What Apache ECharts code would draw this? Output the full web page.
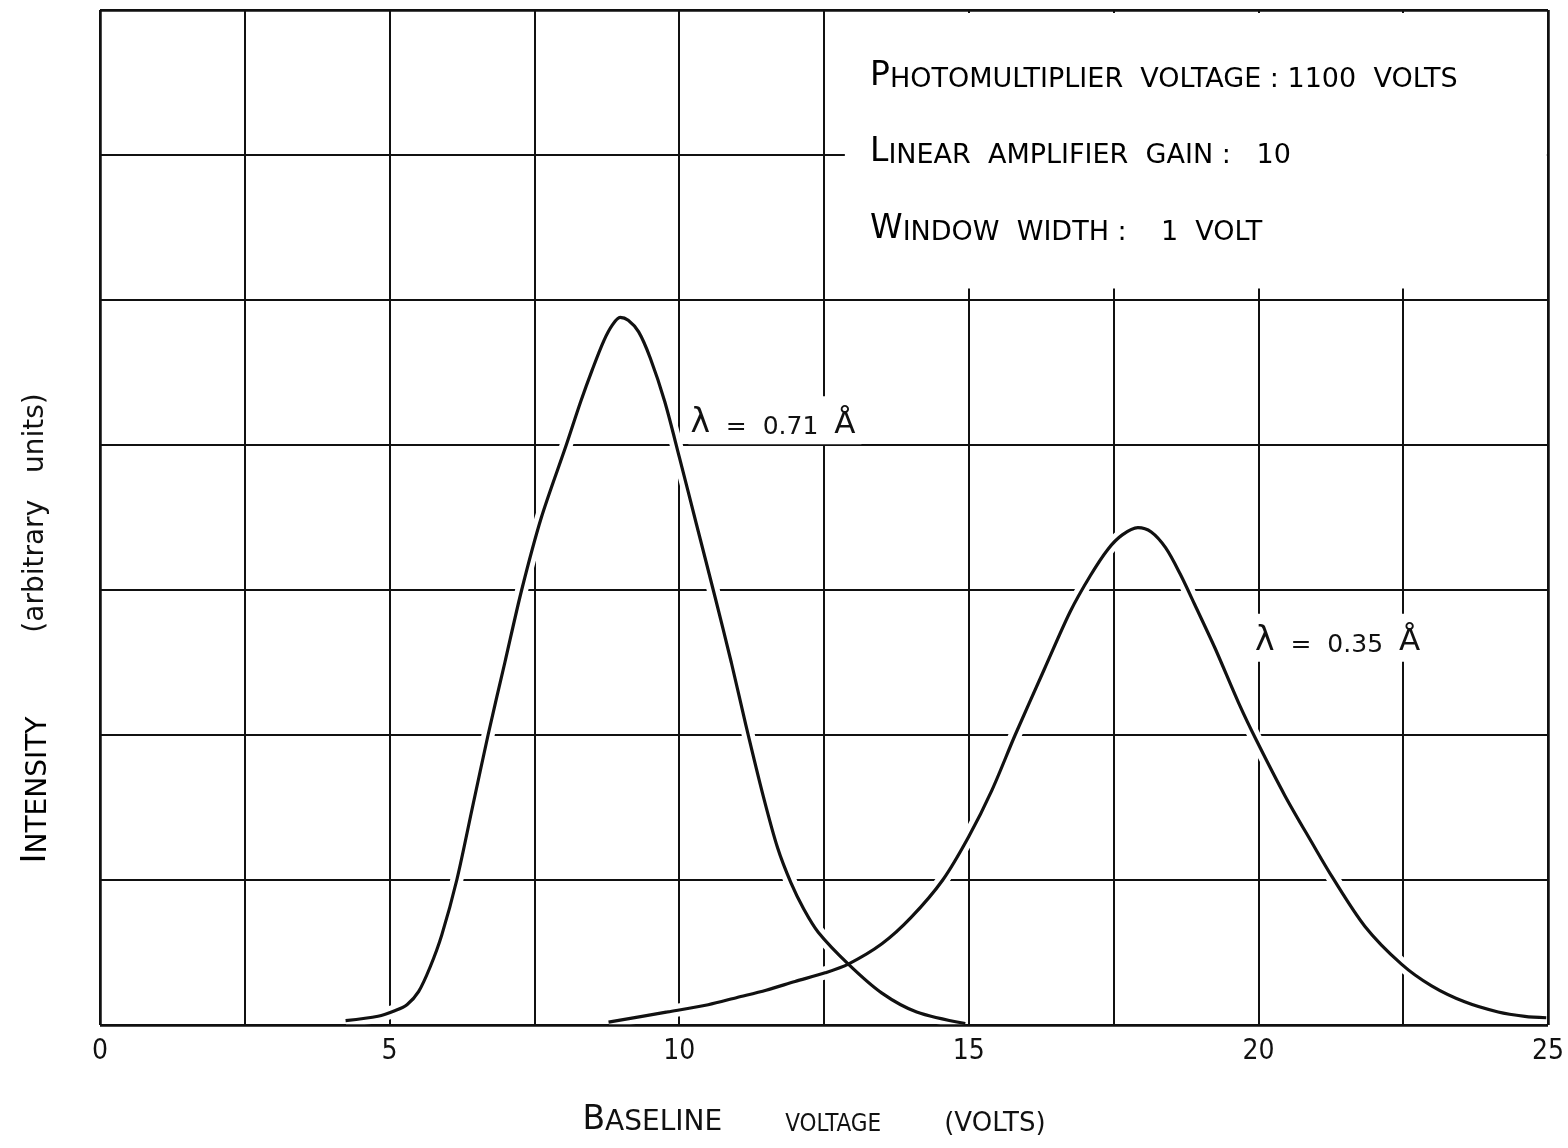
<!DOCTYPE html>
<html>
<head>
<meta charset="utf-8">
<script src="https://cdn.jsdelivr.net/npm/echarts@6/dist/echarts.min.js"></script>
<style>
  html, body { margin: 0; padding: 0; background: #fff; }
  #chart { width: 1568px; height: 1148px; }
</style>
</head>
<body>
<div id="chart"></div>
<script>
// Pulse height spectra (volts, arbitrary units)
const voltsA     = [4.24, 4.8, 5.1, 5.3, 5.5, 5.7, 5.9, 6.16, 6.43, 6.7, 6.99, 7.28, 7.62, 8.05, 8.3, 8.5, 8.7, 8.85, 8.98, 9.12, 9.3, 9.5, 9.75, 10.0, 10.3, 10.62, 10.9, 11.15, 11.45, 11.7, 11.93, 12.15, 12.4, 12.92, 13.5, 14.1, 14.94];
const intensityA = [0.03, 0.06, 0.1, 0.14, 0.23, 0.4, 0.62, 1.0, 1.5, 2.0, 2.5, 3.0, 3.5, 4.0, 4.3, 4.52, 4.72, 4.83, 4.88, 4.86, 4.78, 4.6, 4.3, 3.92, 3.45, 2.95, 2.5, 2.07, 1.58, 1.22, 0.98, 0.8, 0.64, 0.42, 0.22, 0.09, 0.01];

const voltsB     = [8.78, 9.8, 10.5, 11.0, 11.5, 12.0, 12.52, 12.92, 13.5, 14.0, 14.55, 15.0, 15.4, 15.8, 16.3, 16.75, 17.1, 17.4, 17.65, 17.92, 18.15, 18.4, 18.65, 18.9, 19.25, 19.66, 19.97, 20.46, 20.92, 21.26, 21.84, 22.47, 22.99, 23.56, 24.14, 24.6, 24.97];
const intensityB = [0.02, 0.09, 0.14, 0.19, 0.24, 0.3, 0.36, 0.42, 0.56, 0.74, 1.0, 1.3, 1.62, 2.0, 2.45, 2.85, 3.1, 3.28, 3.38, 3.43, 3.4, 3.29, 3.11, 2.9, 2.6, 2.22, 1.96, 1.58, 1.26, 1.03, 0.68, 0.42, 0.27, 0.16, 0.09, 0.06, 0.05];

const xTickLabels = ['0', '5', '10', '15', '20', '25'];
const curveLabels = ['λ', '0.71', '0.35'];
const infoLines   = [
  ['P', 'HOTOMULTIPLIER  VOLTAGE : 1100  VOLTS'],
  ['L', 'INEAR  AMPLIFIER  GAIN :   10'],
  ['W', 'INDOW  WIDTH :    1  VOLT']
];

const FONT   = "'DejaVu Sans Condensed', 'DejaVu Sans', sans-serif";
const FONT_W = "'DejaVu Sans', sans-serif";
const INK    = '#111';

const toPairs = (xs, ys) => xs.map((x, i) => [x, ys[i]]);
const dataA = toPairs(voltsA, intensityA);
const dataB = toPairs(voltsB, intensityB);

const chart = echarts.init(document.getElementById('chart'), null, { renderer: 'canvas' });

// white halo under each curve breaks the grid like drafting ink does
const halo = (data) => ({
  type: 'line', data, smooth: 0.3, showSymbol: false, silent: true,
  lineStyle: { color: '#fff', width: 13 }, z: 3
});
const ink = (data) => ({
  type: 'line', data, smooth: 0.3, showSymbol: false, silent: true,
  lineStyle: { color: INK, width: 3.2 }, z: 4
});

const lambdaLabel = (coord, value) => ({
  coord,
  symbol: 'rect', symbolSize: 1,
  itemStyle: { color: 'rgba(0,0,0,0)' },
  label: {
    show: true, position: 'right', distance: 0,
    formatter: '{l|' + curveLabels[0] + '}{t|  =  ' + value + '  }{a|Å}',
    backgroundColor: '#fff', padding: [8, 6, 4, 2],
    rich: {
      l: { fontFamily: FONT_W, fontSize: 33, color: INK, verticalAlign: 'bottom', lineHeight: 36 },
      t: { fontFamily: FONT_W, fontSize: 25, color: INK, verticalAlign: 'bottom', lineHeight: 36 },
      a: { fontFamily: FONT_W, fontSize: 31, color: INK, verticalAlign: 'bottom', lineHeight: 36 }
    }
  }
});

const richCaps = {
  a: { fontFamily: FONT_W, fontSize: 33, color: INK, verticalAlign: 'bottom', lineHeight: 36 },
  b: { fontFamily: FONT_W, fontSize: 27, color: INK, verticalAlign: 'bottom', lineHeight: 36 }
};
const capsLine = (top, pair) => ({
  type: 'text', left: 870, top, z: 20,
  style: { text: '{a|' + pair[0] + '}{b|' + pair[1] + '}', rich: richCaps }
});

chart.setOption({
  backgroundColor: '#fff',
  animation: false,
  grid: { left: 100, right: 20, top: 10, bottom: 123 },
  xAxis: {
    type: 'value', min: 0, max: 25, interval: 2.5,
    axisLine: { show: false },
    axisTick: { show: false },
    splitLine: { show: true, lineStyle: { color: INK, width: 2 } },
    axisLabel: {
      margin: 13, fontFamily: FONT, fontSize: 28, color: INK,
      formatter: v => (v % 5 === 0 ? xTickLabels[v / 5] : '')
    },
    name: '{a|B}{b|ASELINE}{c|VOLTAGE}{d|(VOLTS)}',
    nameLocation: 'middle', nameGap: 78,
    nameTextStyle: {
      padding: [0, 20, 0, 0],
      rich: {
        a: { fontFamily: FONT_W, fontSize: 33, color: INK, verticalAlign: 'bottom', lineHeight: 34 },
        b: { fontFamily: FONT_W, fontSize: 28, color: INK, verticalAlign: 'bottom', lineHeight: 34 },
        c: { fontFamily: FONT, fontSize: 24, color: INK, verticalAlign: 'bottom', lineHeight: 34, width: 222, align: 'center' },
        d: { fontFamily: FONT_W, fontSize: 26, color: INK, verticalAlign: 'bottom', lineHeight: 34 }
      }
    }
  },
  yAxis: {
    type: 'value', min: 0, max: 7, interval: 1,
    axisLine: { show: false },
    axisTick: { show: false },
    axisLabel: { show: false },
    splitLine: { show: true, lineStyle: { color: INK, width: 2 } }
  },
  graphic: [
    capsLine(60, infoLines[0]),
    capsLine(136, infoLines[1]),
    capsLine(213, infoLines[2]),
    {
      type: 'text', x: 36, y: 790, rotation: Math.PI / 2, z: 20,
      style: {
        text: '{a|I}{b|NTENSITY}',
        align: 'center', verticalAlign: 'middle',
        rich: {
          a: { fontFamily: FONT_W, fontSize: 34, color: INK, verticalAlign: 'bottom', lineHeight: 34 },
          b: { fontFamily: FONT_W, fontSize: 28, color: INK, verticalAlign: 'bottom', lineHeight: 34 }
        }
      }
    },
    {
      type: 'text', x: 36, y: 513, rotation: Math.PI / 2, z: 20,
      style: {
        text: '(arbitrary   units)',
        align: 'center', verticalAlign: 'middle',
        fontFamily: FONT_W, fontSize: 28, fill: INK
      }
    }
  ],
  series: [
    Object.assign(halo(dataA), {
      // blank panel behind the settings text
      markArea: {
        silent: true,
        itemStyle: { color: '#fff', opacity: 1 },
        data: [[{ coord: [12.86, 5.08] }, { coord: [24.98, 6.98] }]]
      }
    }),
    halo(dataB),
    Object.assign(ink(dataA), {
      markPoint: { silent: true, data: [lambdaLabel([10.15, 4.17], curveLabels[1])] }
    }),
    Object.assign(ink(dataB), {
      markPoint: { silent: true, data: [lambdaLabel([19.9, 2.67], curveLabels[2])] },
      // plot frame on top of the halos
      markLine: {
        silent: true, symbol: ['none', 'none'],
        label: { show: false },
        lineStyle: { color: INK, width: 2.5, type: 'solid' },
        data: [{ xAxis: 0 }, { xAxis: 25 }, { yAxis: 0 }, { yAxis: 7 }]
      }
    })
  ]
});
</script>
</body>
</html>
